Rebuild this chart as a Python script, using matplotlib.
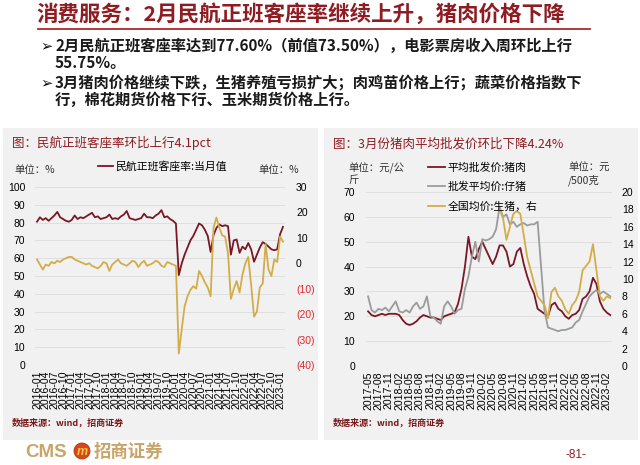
import matplotlib
matplotlib.use('Agg')
import matplotlib.pyplot as plt
from matplotlib.patches import Rectangle, Circle
import pandas as pd

W, H = 640, 465
CJK = ['Noto Sans CJK SC', 'DejaVu Sans']
NUM = 'Liberation Sans'
DARK_RED = '#8e1c22'
MAROON = '#7a1725'
GOLD = '#d2ad48'
GRAY = '#9b9b9b'
PANEL = '#f1f1f1'
GRID = '#dcdcdc'
CMS_GOLD = '#c9a468'

# ---- left chart: civil aviation passenger load factor (monthly) ----
air_months = pd.period_range('2016-01', '2023-02', freq='M')
load_factor = [
    80.5, 83.0, 81.5, 82.5, 81.0, 82.5, 84.0, 86.0, 83.0, 82.0, 81.0, 80.5,
    81.5, 84.0, 82.0, 83.0, 82.5, 83.5, 84.5, 85.5, 83.0, 83.5, 82.0, 82.5,
    83.0, 84.5, 82.0, 82.5, 82.0, 83.5, 84.5, 86.5, 82.5, 82.0, 81.5, 82.0,
    82.5, 85.0, 83.0, 83.0, 82.5, 84.0, 85.0, 87.0, 83.0, 83.5, 82.0, 81.0,
    79.5, 50.5, 57.0, 62.0, 66.0, 70.0, 72.5, 76.0, 79.5, 78.5, 76.0, 72.5,
    63.5, 73.0, 77.0, 79.0, 78.0, 78.5, 78.0, 62.0, 70.0, 70.5, 63.0, 66.5,
    65.0, 68.5, 65.0, 58.0, 62.0, 66.0, 69.0, 68.0, 66.5, 65.0, 64.5, 65.0,
    73.5, 77.6,
]
load_factor_chg = [
    1.5, -0.5, -2.5, -0.5, -1.0, 0.5, 0.0, 1.0, 0.5, 1.5, 2.0, 2.5,
    2.5, 1.5, 1.0, 0.5, 0.0, -0.5, 0.0, -1.0, -1.5, -2.0, -1.0, 0.5,
    0.0, -3.0, -0.5, 0.5, 1.5, 0.0, -0.5, -1.0, 0.0, 1.0, 0.5, -1.5,
    0.0, 1.0, -1.0, -0.5, 0.0, 1.0, 0.5, -1.0, -1.5, 0.5, 0.0, -0.5,
    -1.0, -35.5, -26.0, -17.0, -13.0, -10.5, -9.0, -10.0, -3.0, -5.0, -7.5, -9.5,
    -13.0, 14.0, 18.0, 14.0, 11.0, 10.5, 4.0, -14.0, -10.0, -7.0, -11.5, -4.5,
    0.0, 2.5, -8.5, -21.0, -19.0, -9.5, -8.0, 7.5, -2.5, -5.0, 1.5, 0.5,
    10.5, 8.5,
]

# ---- right chart: pork / piglet / live hog prices (monthly) ----
pig_months = pd.period_range('2017-05', '2023-03', freq='M')
pork_price = [
    22.0, 20.5, 20.0, 20.5, 21.0, 20.5, 21.0, 21.0, 21.0, 20.5, 18.5, 17.0,
    16.5, 17.0, 18.0, 19.5, 20.5, 20.0, 19.5, 19.5, 19.0, 18.5, 20.0, 20.5,
    21.0, 21.5, 25.0, 31.0, 40.0, 52.0, 44.0, 43.0, 47.0, 50.0, 47.0, 44.0,
    41.0, 44.0, 48.5, 48.5, 46.0, 40.0, 41.0, 46.0, 47.5, 41.0, 36.0, 32.0,
    29.0, 23.0, 22.0, 21.0, 20.0, 24.5, 25.5, 23.0, 22.0, 20.0, 19.0, 20.5,
    21.0, 22.5, 27.0, 28.0, 30.0, 35.5, 33.0, 26.0, 23.0, 21.5, 20.5,
]
piglet_price = [
    28.0, 22.5, 21.5, 23.0, 22.5, 23.5, 22.0, 24.0, 26.0, 22.0, 21.5, 22.5,
    21.5, 24.0, 25.5, 23.0, 24.0, 28.0, 20.0, 19.5, 18.0, 17.0, 24.0, 26.0,
    24.0, 21.0, 22.5, 23.0, 31.0, 36.0, 44.0, 50.0, 42.0, 51.0, 50.5, 51.0,
    52.0, 55.0, 64.0, 60.0, 61.0, 57.0, 58.0, 56.0, 57.0, 57.5, 56.5, 57.0,
    57.0, 58.0, 40.0, 22.0, 15.5, 15.0, 14.5, 14.0, 14.5, 14.5, 15.0, 15.5,
    17.5, 18.5, 22.0, 25.0, 28.0, 29.5, 30.5, 29.0, 30.0, 29.0, 28.0,
]
hog_start = '2020-07'
hog_price = [
    18.0, 17.0, 14.5, 16.0, 17.5, 17.8, 17.5, 15.0, 12.5, 11.0, 9.5, 8.0,
    7.5, 7.0, 5.5, 8.5, 9.0, 8.0, 7.5, 6.5, 6.0, 7.0, 7.5, 8.5,
    11.0, 11.5, 12.0, 14.0, 11.0, 8.0, 7.5, 8.0, 7.8,
]


def ax_rect(x0, y0, x1, y1):
    return [x0 / W, 1 - y1 / H, (x1 - x0) / W, (y1 - y0) / H]


def clean(ax):
    for s in ax.spines.values():
        s.set_visible(False)
    ax.tick_params(length=0)


fig = plt.figure(figsize=(W / 100, H / 100), dpi=100)
fig.patch.set_facecolor('white')

# overlay in pixel coordinates for page decoration
ov = fig.add_axes([0, 0, 1, 1], zorder=-5)
ov.set_xlim(0, W)
ov.set_ylim(H, 0)
ov.axis('off')

ov.text(36, 14, '消费服务：2月民航正班客座率继续上升，猪肉价格下降', fontsize=15.5,
        weight='bold', color=DARK_RED, family=CJK, va='center')
ov.plot([38, 590], [29, 29], color='#b02a2a', lw=1.3)

bullets = [
    (46, '2月民航正班客座率达到77.60%（前值73.50%），电影票房收入周环比上行', '55.75%。'),
    (83, '3月猪肉价格继续下跌，生猪养殖亏损扩大；肉鸡苗价格上行；蔬菜价格指数下', '行，棉花期货价格下行、玉米期货价格上行。'),
]
for y, l1, l2 in bullets:
    ov.text(40, y, '➢', fontsize=10.5, family='DejaVu Sans', va='center', color='#111111')
    ov.text(55, y, l1, fontsize=11, weight='bold', family=CJK, va='center', color='#1a1a1a')
    ov.text(55, y + 17, l2, fontsize=11, weight='bold', family=CJK, va='center', color='#1a1a1a')

ov.add_patch(Rectangle((3, 128), 315, 312, facecolor=PANEL, edgecolor='none'))
ov.add_patch(Rectangle((324, 128), 314, 312, facecolor=PANEL, edgecolor='none'))

ov.text(12, 143, '图：民航正班客座率环比上行4.1pct', fontsize=9, color=DARK_RED,
        family=CJK, va='center')
ov.text(333, 144, '图：3月份猪肉平均批发价环比下降4.24%', fontsize=9, color=DARK_RED,
        family=CJK, va='center')

small = dict(fontsize=7.5, family=CJK, va='center', color='#333333')
ov.text(14, 170, '单位：%', **small)
ov.text(258, 170, '单位：%', **small)
ov.text(348, 168, '单位：元/公', **small)
ov.text(348, 180, '斤', **small)
ov.text(568, 168, '单位：元', **small)
ov.text(568, 180, '/500克', **small)

src = dict(fontsize=6.5, family=CJK, va='center', color='#7a1a1a', weight='bold')
ov.text(12, 423, '数据来源：wind，招商证券', **src)
ov.text(333, 423, '数据来源：wind，招商证券', **src)

# footer
ov.text(25, 452, 'CMS', fontsize=13.5, weight='bold', family=NUM, color=CMS_GOLD, va='center')
ov.add_patch(Circle((82, 451), 8, facecolor='#d8461c', edgecolor='#b8321a', lw=0.6))
ov.text(82, 451.5, 'm', fontsize=9, weight='bold', style='italic', family=NUM,
        color='#f3c64a', ha='center', va='center')
ov.text(94, 452, '招商证券', fontsize=12.5, weight='bold', family=CJK, color=CMS_GOLD, va='center')
ov.text(576, 455, '-81-', fontsize=8.5, family=NUM, color=DARK_RED, ha='center', va='center')

# ---- left chart ----
ax1 = fig.add_axes(ax_rect(35, 187, 285, 365))
ax1.set_facecolor('none')
clean(ax1)
x_air = list(range(len(air_months)))
line_lf, = ax1.plot(x_air, load_factor, color=MAROON, lw=1.3)
ax1.set_xlim(-0.7, len(air_months) - 0.3)
ax1.set_ylim(0, 100)
ax1.set_yticks(range(0, 101, 10))
ax1.yaxis.grid(True, color=GRID, lw=0.6)
ax1.set_axisbelow(True)
ax1.set_xticks(x_air[::3])
ax1.set_xticklabels([str(p) for p in air_months[::3]], rotation=90, fontsize=7.6, family=NUM)
ax1.tick_params(axis='x', pad=4)
ax1.tick_params(axis='y', pad=7, labelsize=7.5)
for t in ax1.get_yticklabels():
    t.set_family(NUM)

ax1r = ax1.twinx()
clean(ax1r)
ax1r.plot(x_air, load_factor_chg, color=GOLD, lw=1.3)
ax1r.set_ylim(-40, 30)
rticks = list(range(-40, 31, 10))
ax1r.set_yticks(rticks)
ax1r.set_yticklabels([f'({-v})' if v < 0 else str(v) for v in rticks], fontsize=7.5, family=NUM)
for v, t in zip(rticks, ax1r.get_yticklabels()):
    if v < 0:
        t.set_color('#e0282e')
ax1r.tick_params(axis='y', pad=8)

fig.legend([line_lf], ['民航正班客座率:当月值'], loc='center left',
           bbox_to_anchor=(98 / W, 1 - 166 / H), frameon=False, borderpad=0,
           borderaxespad=0, handlelength=1.4, handletextpad=0.2,
           prop={'family': CJK, 'size': 7.8})

# ---- right chart ----
ax2 = fig.add_axes(ax_rect(366, 192, 612, 366))
ax2.set_facecolor('none')
clean(ax2)
x_pig = list(range(len(pig_months)))
line_pork, = ax2.plot(x_pig, pork_price, color=MAROON, lw=1.3)
line_piglet, = ax2.plot(x_pig, piglet_price, color=GRAY, lw=1.3)
ax2.set_xlim(-0.6, len(pig_months) - 0.5)
ax2.set_ylim(0, 70)
ax2.set_yticks(range(0, 71, 10))
ax2.yaxis.grid(True, color=GRID, lw=0.6)
ax2.set_axisbelow(True)
ax2.set_xticks(x_pig[:70:3])
ax2.set_xticklabels([str(p) for p in pig_months[:70:3]], rotation=90, fontsize=7.6, family=NUM)
ax2.tick_params(axis='x', pad=4)
ax2.tick_params(axis='y', pad=8, labelsize=7.5)
for t in ax2.get_yticklabels():
    t.set_family(NUM)

ax2r = ax2.twinx()
clean(ax2r)
i0 = list(pig_months.astype(str)).index(hog_start)
line_hog, = ax2r.plot(x_pig[i0:i0 + len(hog_price)], hog_price, color=GOLD, lw=1.3)
ax2r.set_ylim(0, 20)
ax2r.set_yticks(range(0, 21, 2))
ax2r.tick_params(axis='y', pad=7, labelsize=7.5)
for t in ax2r.get_yticklabels():
    t.set_family(NUM)

fig.legend([line_pork, line_piglet, line_hog],
           ['平均批发价:猪肉', '批发平均价:仔猪', '全国均价:生猪，右'],
           loc='upper left', bbox_to_anchor=(428 / W, 1 - 162 / H), frameon=False,
           borderpad=0, borderaxespad=0, handlelength=1.6, handletextpad=0.2,
           labelspacing=0.85, prop={'family': CJK, 'size': 7.8})

fig.savefig('out.png', dpi=100, facecolor='white')
